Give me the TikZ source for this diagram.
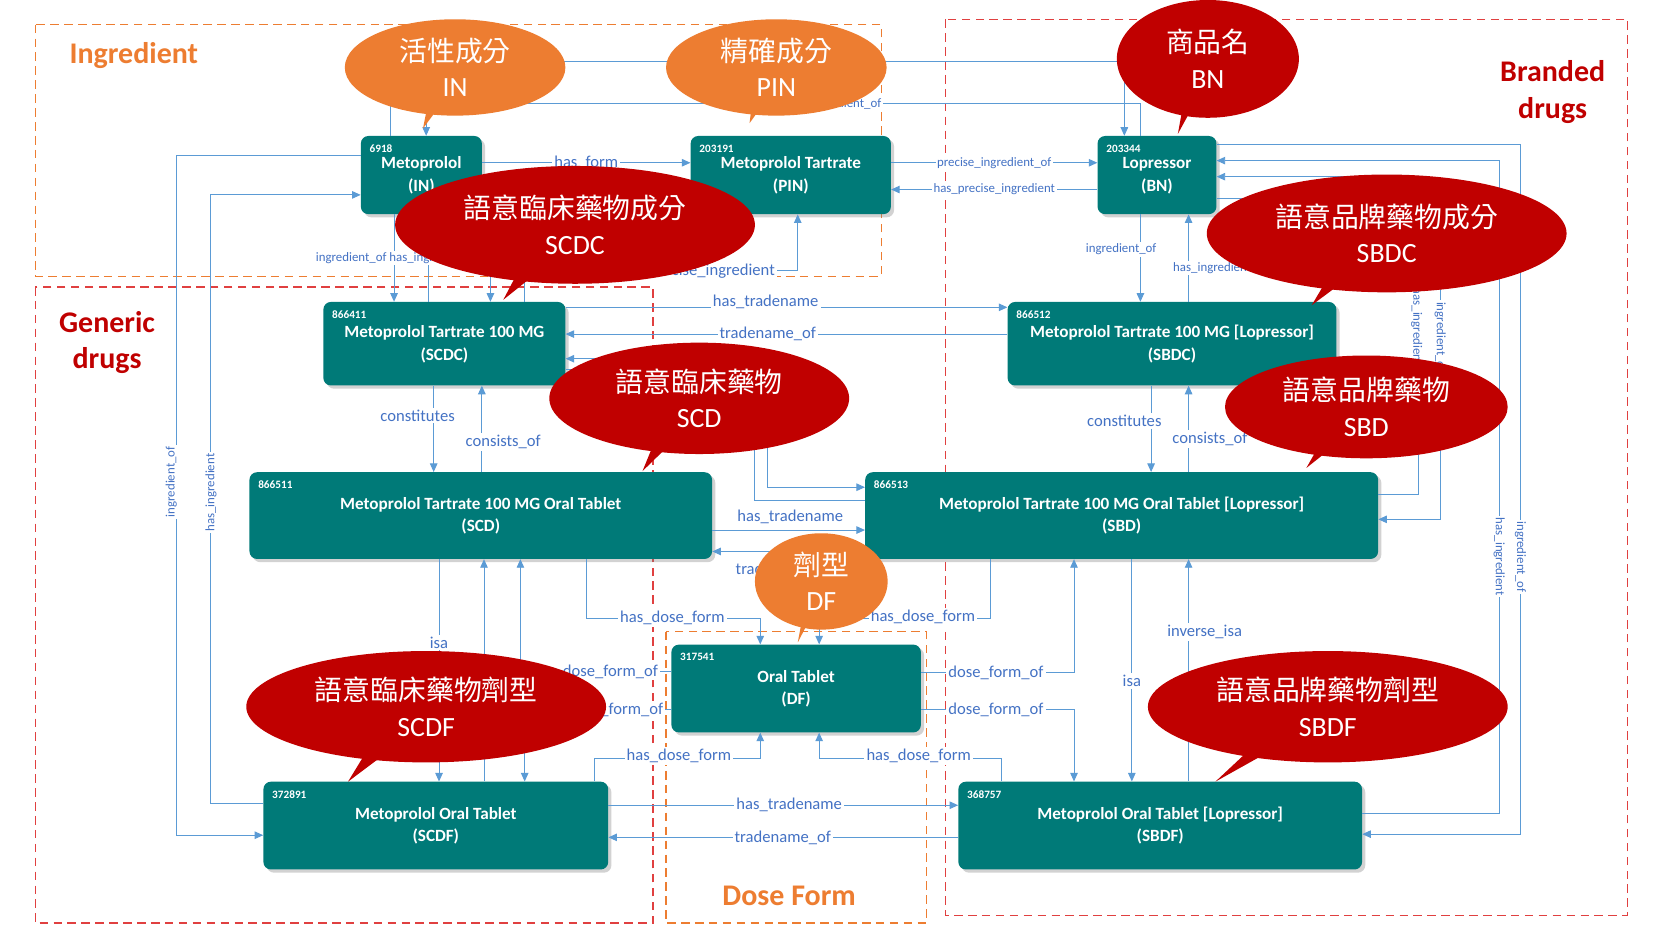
\documentclass[tikz,border=0pt]{standalone}
\usepackage{fontspec}
\setmainfont{Carlito}
\newfontfamily\cjk{Noto Sans CJK TC}
\usetikzlibrary{arrows.meta,shadows,calc}
\definecolor{teal1}{HTML}{007A78}
\definecolor{lnk}{HTML}{5B9BD5}
\definecolor{lbl}{HTML}{4472C4}
\definecolor{cred}{HTML}{C00000}
\definecolor{corg}{HTML}{ED7D31}
\definecolor{dred}{HTML}{E04040}
\begin{document}
\begin{tikzpicture}[x=1pt,y=-1pt,
  box/.style={draw=none,fill=teal1,rounded corners=7pt,drop shadow={shadow xshift=3pt,shadow yshift=-3pt,opacity=0.35},text=white,font=\bfseries\fontsize{16}{21}\selectfont,align=center,inner sep=0pt},
  bid/.style={text=white,font=\bfseries\fontsize{10.5}{11}\selectfont,anchor=north west,inner sep=0pt},
  ln/.style={draw=lnk,line width=0.9pt},
  ar/.style={ln,-{Triangle[length=8pt,width=7pt]}},
  lb/.style={text=lbl,fill=white,font=\fontsize{15.5}{17}\selectfont,inner sep=2pt},
  lbs/.style={text=lbl,fill=white,font=\fontsize{12}{13}\selectfont,inner sep=1.5pt},
  area/.style={line width=1.3pt,dash pattern=on 8pt off 5pt},
  grp/.style={font=\bfseries\fontsize{28}{34}\selectfont,align=center}]
\useasboundingbox (0,0) rectangle (1568,864);
\fill[white] (0,0) rectangle (1568,864);
% group areas
\draw[area,draw=corg] (33,23) rectangle (823,258);
\draw[area,draw=dred] (33,268) rectangle (610,862);
\draw[area,draw=corg] (622,590) rectangle (865,862);
\draw[area,draw=dred] (883,18) rectangle (1520,855);
\node[grp,text=corg] (gi) at (125,52) {Ingredient};
\node[grp,text=cred] (gg) at (100,320) {Generic\\drugs};
\node[grp,text=corg] (gd) at (737,837) {Dose Form};
\node[grp,text=cred] (gb) at (1450,86) {Branded\\drugs};
% boxes
\newcommand\bx[7]{%
  \node[box,minimum width={#4-#2},minimum height={#5-#3}] (#1) at ({(#2+#4)/2},{(#3+#5)/2}) {\rule{0pt}{12pt}#7};
  \node[bid] (#1id) at ({#2+8},{#3+8}) {#6};}
\bx{in}{337}{127}{450}{200}{6918}{Metoprolol\\(IN)}
\bx{pin}{645}{127}{832}{200}{203191}{Metoprolol Tartrate\\(PIN)}
\bx{bn}{1025}{127}{1136}{200}{203344}{Lopressor\\(BN)}
\bx{scdc}{302}{282}{528}{360}{866411}{Metoprolol Tartrate 100 MG\\(SCDC)}
\bx{sbdc}{941}{282}{1248}{360}{866512}{Metoprolol Tartrate 100 MG [Lopressor]\\(SBDC)}
\bx{scd}{233}{441}{665}{522}{866511}{Metoprolol Tartrate 100 MG Oral Tablet\\(SCD)}
\bx{sbd}{808}{441}{1287}{522}{866513}{Metoprolol Tartrate 100 MG Oral Tablet [Lopressor]\\(SBD)}
\bx{df}{627}{602}{860}{684}{317541}{Oral Tablet\\(DF)}
\bx{scdf}{246}{730}{568}{812}{372891}{Metoprolol Oral Tablet\\(SCDF)}
\bx{sbdf}{895}{730}{1272}{812}{368757}{Metoprolol Oral Tablet [Lopressor]\\(SBDF)}
% connectors
\draw[ar] (365,0 |- in.north) -- (365,57) -- (1050,57) -- (1050,0 |- bn.north);
\draw[ar] (1065,0 |- bn.north) -- (1065,97) -- (398,97) -- (398,0 |- in.north);
\node[lbs] (l0) at (790,97) {ingredient\_of};
\draw[ar] (in.east |- 0,152) -- node[lb] (l1) {has\_form} (pin.west |- 0,152);
\draw[ar] (700,0 |- pin.south) -- (700,220) -- (458,220) -- (458,0 |- scdc.north);
\draw[ar] (490,0 |- scdc.north) -- (490,253) -- (745,253) -- (745,0 |- pin.south);
\node[lb] (l2) at (665,253) {precise\_ingredient};
\draw[ar] (pin.east |- 0,152) -- node[lbs] (l3) {precise\_ingredient\_of} (bn.west |- 0,152);
\draw[ar] (bn.west |- 0,177) -- node[lbs] (l4) {has\_precise\_ingredient} (pin.east |- 0,177);
\draw[ar] (368,0 |- in.south) -- (368,0 |- scdc.north);
\node[lbs] (l5) at (328,241) {ingredient\_of};
\draw[ar] (400,0 |- scdc.north) -- (400,0 |- in.south);
\node[lbs] (l6) at (400,241) {has\_ingredient};
\draw[ar] (in.west |- 0,145) -- (165,145) -- (165,780) -- (scdf.west |- 0,780);
\node[lbs,rotate=90] (l7) at (160,450) {ingredient\_of};
\draw[ar] (scdf.west |- 0,750) -- (197,750) -- (197,182) -- (in.west |- 0,182);
\node[lbs,rotate=90] (l8) at (197,460) {has\_ingredient};
\draw[ar] (1065,0 |- bn.south) -- (1065,0 |- sbdc.north);
\node[lbs] (l9) at (1047,233) {ingredient\_of};
\draw[ar] (1110,0 |- sbdc.north) -- (1110,0 |- bn.south);
\node[lbs] (l10) at (1132,250) {has\_ingredient};
\draw[ar] (bn.east |- 0,135) -- (1420,135) -- (1420,779) -- (sbdf.east |- 0,779);
\node[lbs,rotate=-90] (l11) at (1420,520) {ingredient\_of};
\draw[ar] (sbdf.east |- 0,760) -- (1400,760) -- (1400,150) -- (bn.east |- 0,150);
\node[lbs,rotate=-90] (l12) at (1400,520) {has\_ingredient};
\draw[ar] (sbd.east |- 0,462) -- (1325,462) -- (1325,165) -- (bn.east |- 0,165);
\node[lbs,rotate=-90] (l13) at (1323,305) {has\_ingredient};
\draw[ar] (bn.east |- 0,185) -- (1345,185) -- (1345,485) -- (sbd.east |- 0,485);
\node[lbs,rotate=-90] (l14) at (1345,315) {ingredient\_of};
\draw[ar] (scdc.east |- 0,287) -- (sbdc.west |- 0,287);
\node[lb] (l15) at (715,282) {has\_tradename};
\draw[ar] (sbdc.west |- 0,312) -- (scdc.east |- 0,312);
\node[lb] (l16) at (717,312) {tradename\_of};
\draw[ar] (scdc.east |- 0,345) -- (717,345) -- (717,455) -- (sbd.west |- 0,455);
\draw[ar] (sbd.west |- 0,467) -- (705,467) -- (705,335) -- (scdc.east |- 0,335);
\draw[ar] (405,0 |- scdc.south) -- (405,0 |- scd.north);
\node[lb] (l17) at (390,388) {constitutes};
\draw[ar] (450,0 |- scd.north) -- (450,0 |- scdc.south);
\node[lb] (l18) at (470,413) {consists\_of};
\draw[ar] (1075,0 |- sbdc.south) -- (1075,0 |- sbd.north);
\node[lb] (l19) at (1050,393) {constitutes};
\draw[ar] (1110,0 |- sbd.north) -- (1110,0 |- sbdc.south);
\node[lb] (l20) at (1130,410) {consists\_of};
\draw[ar] (scd.east |- 0,495) -- (sbd.west |- 0,495);
\node[lb] (l21) at (738,483) {has\_tradename};
\draw[ar] (sbd.west |- 0,515) -- (scd.east |- 0,515);
\node[lb] (l22) at (732,532) {tradename\_of};
\draw[ar] (410,0 |- scd.south) -- (410,0 |- scdf.north);
\node[lb] (l23) at (410,600) {isa};
\draw[ar] (452,0 |- scdf.north) -- (452,0 |- scd.south);
\draw[ar] (df.west |- 0,627) -- (486,627) -- (486,0 |- scd.south);
\node[lb] (l24) at (570,627) {dose\_form\_of};
\draw[ar] (df.west |- 0,663) -- (490,663) -- (490,0 |- scdf.north);
\node[lb] (l25) at (575,663) {dose\_form\_of};
\draw[ar] (548,0 |- scd.south) -- (548,578) -- (710,578) -- (710,0 |- df.north);
\node[lb] (l26) at (628,577) {has\_dose\_form};
\draw[ar] (555,0 |- scdf.north) -- (555,708) -- (710,708) -- (710,0 |- df.south);
\node[lb] (l27) at (634,706) {has\_dose\_form};
\draw[ar] (935,0 |- sbdf.north) -- (935,708) -- (765,708) -- (765,0 |- df.south);
\node[lb] (l28) at (858,706) {has\_dose\_form};
\draw[ar] (925,0 |- sbd.south) -- (925,578) -- (765,578) -- (765,0 |- df.north);
\node[lb] (l29) at (862,576) {has\_dose\_form};
\draw[ar] (df.east |- 0,628) -- (1003,628) -- (1003,0 |- sbd.south);
\node[lb] (l30) at (930,628) {dose\_form\_of};
\draw[ar] (df.east |- 0,663) -- (1003,663) -- (1003,0 |- sbdf.north);
\node[lb] (l31) at (930,663) {dose\_form\_of};
\draw[ar] (1057,0 |- sbd.south) -- (1057,0 |- sbdf.north);
\node[lb] (l32) at (1057,636) {isa};
\draw[ar] (1110,0 |- sbdf.north) -- (1110,0 |- sbd.south);
\node[lb] (l33) at (1125,590) {inverse\_isa};
\draw[ar] (scdf.east |- 0,752) -- (sbdf.west |- 0,752);
\node[lb] (l34) at (737,752) {has\_tradename};
\draw[ar] (sbdf.west |- 0,782) -- (scdf.east |- 0,782);
\node[lb] (l35) at (731,782) {tradename\_of};
% callouts
\newcommand\myco[9]{%
  \fill[#1] ({#2-0.18*#4},#3) -- (#6) -- ({#2+0.12*#4},#3) -- cycle;
  \fill[#1] (#2,#3) ellipse ({#4} and {#5});
  \node[text=white,align=center,font=\fontsize{26}{33}\selectfont] (#7) at (#2,#3) {\cjk #8\\#9};}
\myco{corg}{425}{63}{103}{45}{395,120}{cin}{活性成分}{IN}
\myco{corg}{725}{63}{103}{45}{700,115}{cpin}{精確成分}{PIN}
\myco{cred}{1128}{55}{85}{55}{1100,125}{cbn}{商品名}{BN}
\myco{cred}{537}{210}{168}{55}{470,280}{cscdc}{語意臨床藥物成分}{SCDC}
\myco{cred}{1295}{218}{168}{55}{1225,285}{csbdc}{語意品牌藥物成分}{SBDC}
\myco{cred}{653}{372}{140}{52}{600,440}{cscd}{語意臨床藥物}{SCD}
\myco{cred}{1276}{380}{132}{48}{1220,437}{csbd}{語意品牌藥物}{SBD}
\myco{corg}{767}{543}{62}{45}{745,600}{cdf}{劑型}{DF}
\myco{cred}{398}{660}{168}{52}{325,730}{cscdf}{語意臨床藥物劑型}{SCDF}
\myco{cred}{1240}{660}{168}{52}{1135,730}{csbdf}{語意品牌藥物劑型}{SBDF}
\end{tikzpicture}
\end{document}
